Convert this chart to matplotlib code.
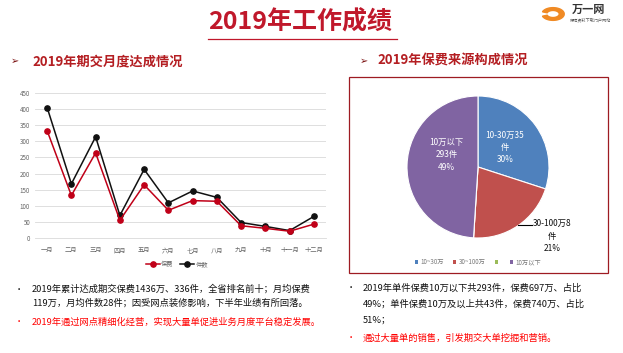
import matplotlib
matplotlib.use('Agg')
import matplotlib.pyplot as plt
from matplotlib.patches import Patch, Rectangle, Wedge
from matplotlib.lines import Line2D

plt.rcParams['font.family'] = ['Noto Sans CJK SC', 'DejaVu Sans']

# data
months = ['一月', '二月', '三月', '四月', '五月', '六月', '七月', '八月', '九月', '十月', '十一月', '十二月']
premium = [333, 132, 264, 55, 165, 86, 116, 114, 38, 30, 21, 43]   # 保费
counts = [405, 168, 314, 70, 213, 109, 146, 126, 48, 36, 23, 67]   # 件数

pie_names = ['10~30万', '30~100万', '', '10万以下']
pie_shares = [30, 21, 0, 49]
pie_colors = ['#4F81BD', '#C0504D', '#9BBB59', '#8064A2']
pie_labels = ['10-30万35\n件\n30%', '30-100万8\n件\n21%', '', '10万以下\n293件\n49%']

W, H = 623, 353
RED = '#C0182B'
DRED = '#B41E22'

fig = plt.figure(figsize=(W / 100, H / 100), dpi=100)
fig.patch.set_facecolor('white')

def fx(x):
    return x / W

def fy(y):
    return 1 - y / H

# title
fig.text(fx(300), fy(22), '2019年工作成绩', color=RED, fontsize=18, fontweight='bold',
         ha='center', va='center')
fig.add_artist(Line2D([fx(208), fx(397)], [fy(39), fy(39)], color=RED, lw=0.9))

# logo (rough)
fig.add_artist(Wedge((fx(553), fy(14)), 0.018, 200, 520, width=0.008, color='#F08A24',
                     transform=fig.transFigure))
fig.text(fx(589), fy(9), '万一网', fontsize=8, fontweight='bold', color='#333333',
         ha='center', va='center')
fig.text(fx(591), fy(20), '保险资料下载门户网站', fontsize=3, color='#555555',
         ha='center', va='center')

# section headings
fig.text(fx(15), fy(61), '➢', fontsize=7, color='#7A1010', ha='center', va='center',
         family=['DejaVu Sans'])
fig.text(fx(32), fy(61), '2019年期交月度达成情况', fontsize=9.5, fontweight='bold',
         color=DRED, ha='left', va='center')
fig.text(fx(364), fy(61), '➢', fontsize=7, color='#7A1010', ha='center', va='center',
         family=['DejaVu Sans'])
fig.text(fx(377), fy(61), '2019年保费来源构成情况', fontsize=9.5, fontweight='bold',
         color=DRED, ha='left', va='center')

# line chart
ax = fig.add_axes([fx(35), fy(238), fx(326 - 35), (238 - 93) / H])
x = list(range(len(months)))
ax.plot(x, counts, color='#111111', lw=1.1, marker='o', ms=3.8, label='件数', zorder=3)
ax.plot(x, premium, color='#C00018', lw=1.1, marker='o', ms=3.8, label='保费', zorder=4)
ax.set_xlim(-0.5, 11.5)
ax.set_ylim(0, 450)
ax.set_yticks(range(0, 451, 50))
ax.set_yticklabels(['0', '50', '100', '150', '200', '250', '300', '350', '400', '450'])
ax.set_xticks(x)
ax.set_xticklabels(months)
ax.tick_params(axis='both', length=0, labelsize=4.5, labelcolor='#666666')
ax.tick_params(axis='x', pad=6)
ax.grid(axis='y', color='#D9D9D9', lw=0.6)
ax.set_axisbelow(True)
for s in ['top', 'right', 'left']:
    ax.spines[s].set_visible(False)
ax.spines['bottom'].set_color('#D9D9D9')
ax.spines['bottom'].set_linewidth(0.6)
h, l = ax.get_legend_handles_labels()
fig.legend(h[::-1], l[::-1], loc='center', bbox_to_anchor=(fx(177), fy(264)), ncol=2,
           fontsize=4.5, frameon=False, handlelength=2.2, columnspacing=1.0,
           handletextpad=0.3, labelcolor='#666666')

# pie box
fig.add_artist(Rectangle((fx(349), fy(273)), fx(608 - 349), (273 - 77) / H, fill=False,
                         edgecolor='#9E1B22', lw=0.9, transform=fig.transFigure))

r = 71
pax = fig.add_axes([fx(478 - r), fy(167 + r), fx(2 * r), 2 * r / H])
wedges, _ = pax.pie(pie_shares, colors=pie_colors, startangle=90, counterclock=False,
                    wedgeprops=dict(edgecolor='white', linewidth=0.8))
pax.set_xlim(-1, 1)
pax.set_ylim(-1, 1)
pax.set_aspect('equal')
pax.text(0.38, 0.28, pie_labels[0], color='white', fontsize=6, ha='center', va='center',
         linespacing=1.45)
pax.text(-0.44, 0.17, pie_labels[3], color='white', fontsize=6, ha='center', va='center',
         linespacing=1.45)
fig.text(fx(552), fy(236), pie_labels[1], color='#111111', fontsize=6, ha='center',
         va='center', linespacing=1.45)
fig.add_artist(Line2D([fx(518), fx(532)], [fy(225), fy(225)], color='black', lw=0.8))

handles = [Patch(facecolor=c) for c in pie_colors]
fig.legend(handles, pie_names, loc='center', bbox_to_anchor=(fx(478), fy(262)), ncol=4,
           fontsize=4.5, frameon=False, handlelength=0.5, handleheight=0.5,
           columnspacing=1.5, handletextpad=0.4, labelcolor='#777777')

# bullet texts
fs = 6.7
fig.text(fx(19), fy(289), '•', fontsize=6, color='#111111', ha='center', va='center')
fig.text(fx(32), fy(289), '2019年累计达成期交保费1436万、336件，全省排名前十；月均保费',
         fontsize=fs, color='#111111', ha='left', va='center')
fig.text(fx(32), fy(303), '119万，月均件数28件；因受网点装修影响，下半年业绩有所回落。',
         fontsize=fs, color='#111111', ha='left', va='center')
fig.text(fx(19), fy(322), '•', fontsize=6, color='#FF0000', ha='center', va='center')
fig.text(fx(32), fy(322), '2019年通过网点精细化经营，实现大量单促进业务月度平台稳定发展。',
         fontsize=fs, color='#FF0000', ha='left', va='center')

fig.text(fx(351), fy(288), '•', fontsize=6, color='#111111', ha='center', va='center')
fig.text(fx(363), fy(288), '2019年单件保费10万以下共293件，保费697万、占比',
         fontsize=fs, color='#111111', ha='left', va='center')
fig.text(fx(363), fy(304), '49%；单件保费10万及以上共43件，保费740万、占比',
         fontsize=fs, color='#111111', ha='left', va='center')
fig.text(fx(363), fy(320), '51%；', fontsize=fs, color='#111111', ha='left', va='center')
fig.text(fx(351), fy(338), '•', fontsize=6, color='#FF0000', ha='center', va='center')
fig.text(fx(363), fy(338), '通过大量单的销售，引发期交大单挖掘和营销。',
         fontsize=fs, color='#FF0000', ha='left', va='center')

fig.savefig('out.png', dpi=100, facecolor='white')
